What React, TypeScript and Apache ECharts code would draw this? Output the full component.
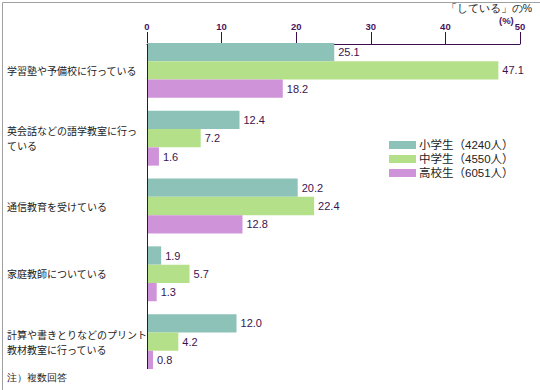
import React, { useEffect, useRef } from "react";
import * as echarts from "echarts";

const categories = [
  "学習塾や予備校に行っている",
  "英会話などの語学教室に行っ\nている",
  "通信教育を受けている",
  "家庭教師についている",
  "計算や書きとりなどのプリント\n教材教室に行っている",
];
const seriesNames = ["小学生（4240人）", "中学生（4550人）", "高校生（6051人）"];
const elementary = [25.1, 12.4, 20.2, 1.9, 12.0];
const juniorHigh = [47.1, 7.2, 22.4, 5.7, 4.2];
const highSchool = [18.2, 1.6, 12.8, 1.3, 0.8];
const colors = ["#8dc2b9", "#b5e08a", "#cf93d9"];

const FONT = "'Liberation Sans', 'Noto Sans CJK JP', sans-serif";
const AXIS = "#3c0d4e";

export default function App() {
  const ref = useRef<HTMLDivElement>(null);
  useEffect(() => {
    const chart = echarts.init(ref.current!, null, { renderer: "svg" });
    const values = [elementary, juniorHigh, highSchool];
    chart.setOption({
      animation: false,
      textStyle: { fontFamily: FONT },
      grid: { left: 147, right: 20, top: 36.5, bottom: 14.5 },
      legend: {
        orient: "vertical",
        left: 384,
        top: 134,
        itemWidth: 27,
        itemHeight: 8,
        itemGap: 2,
        icon: "rect",
        textStyle: { fontSize: 11.5, color: "#222", lineHeight: 12, padding: [0, 0, 0, -2], fontFamily: FONT },
        data: seriesNames,
      },
      xAxis: {
        type: "value",
        position: "top",
        offset: -7.5,
        min: 0,
        max: 50,
        interval: 10,
        splitLine: { show: false },
        axisLine: { show: true, lineStyle: { color: AXIS, width: 1 } },
        axisTick: { show: true, length: 12, lineStyle: { color: AXIS } },
        axisLabel: { color: "#4a145e", fontSize: 9.5, fontWeight: "bold", margin: 13, fontFamily: FONT },
      },
      yAxis: {
        type: "category",
        inverse: true,
        data: categories,
        axisLine: { show: false },
        axisTick: { show: false },
        axisLabel: {
          align: "left",
          margin: 140,
          fontSize: 10,
          lineHeight: 15,
          color: "#222",
          fontFamily: "'Noto Sans CJK JP', sans-serif",
        },
      },
      series: values.map((v, i) => ({
        name: seriesNames[i],
        type: "bar",
        data: v,
        barWidth: 18.3,
        barGap: "0%",
        itemStyle: { color: colors[i] },
        label: {
          show: true,
          position: "right",
          distance: 4,
          fontSize: 11,
          color: "#3a1450",
          fontFamily: FONT,
          formatter: (p: any) => Number(p.value).toFixed(1),
        },
      })),
      graphic: [
        {
          type: "rect",
          left: 0,
          top: 0,
          shape: { x: 0.5, y: 0.5, width: 539, height: 389 },
          style: { fill: "none", stroke: "#a0a0a0", lineWidth: 1 },
          silent: true,
        },
        {
          type: "line",
          shape: { x1: 147.5, y1: 44, x2: 147.5, y2: 369 },
          style: { stroke: AXIS, lineWidth: 1 },
          z: 10,
        },
        {
          type: "text",
          right: 8,
          top: 2,
          style: { text: "「している」の%", fontSize: 10.5, fill: "#222", font: `10.5px 'Noto Sans CJK JP', sans-serif` },
        },
        {
          type: "text",
          left: 499,
          top: 15,
          style: { text: "(%)", fontSize: 9.5, fontWeight: "bold", fill: "#4a145e", font: `bold 9.5px ${FONT}` },
        },
        {
          type: "text",
          left: 7,
          top: 372,
          style: { text: "注）複数回答", fontSize: 10, fill: "#222", font: `10px 'Noto Sans CJK JP', sans-serif` },
        },
      ],
    });
    return () => chart.dispose();
  }, []);
  return (
    <div
      ref={ref}
      style={{ position: "fixed", left: 0, top: 0, width: 540, height: 390, background: "#fff" }}
    />
  );
}
